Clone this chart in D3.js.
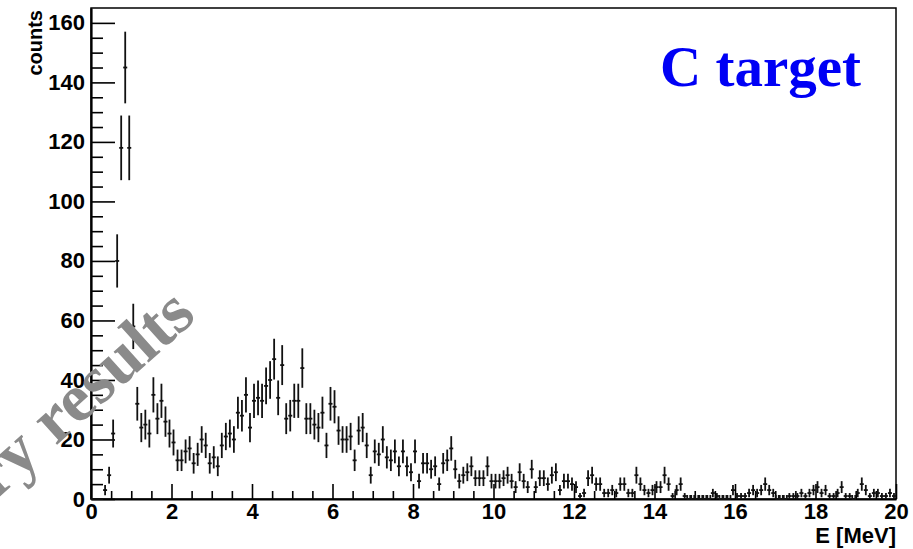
<!DOCTYPE html>
<html>
<head>
<meta charset="utf-8">
<script src="https://cdn.jsdelivr.net/npm/d3@7"></script>
<style>
  body { margin: 0; background: #fff; }
  svg { display: block; }
  .tick text { font-family: "Liberation Sans", Arial, sans-serif; font-weight: bold; font-size: 22px; fill: #000; }
</style>
</head>
<body>
<svg id="chart" width="913" height="549"></svg>
<script>
// histogram: 200 bins of 0.1 MeV, counts
const BIN_WIDTH = 0.1
const counts = [
  0, 0, 0, 3, 8, 22, 80, 118, 145, 118,
  58, 32, 24, 25, 22, 35, 27, 33, 26, 22,
  19, 13, 13, 16, 17, 12, 15, 20, 18, 12,
  14, 11, 18, 21, 22, 20, 29, 28, 35, 24,
  33, 34, 33, 38, 40, 47, 34, 45, 27, 28,
  33, 33, 44, 27, 27, 25, 24, 29, 18, 32,
  31, 23, 20, 20, 21, 13, 23, 24, 18, 8,
  16, 15, 20, 14, 13, 16, 11, 16, 11, 9,
  16, 6, 12, 12, 10, 11, 5, 12, 13, 17,
  10, 6, 8, 9, 11, 7, 7, 7, 11, 6,
  6, 6, 7, 8, 6, 4, 9, 6, 4, 10,
  4, 7, 7, 5, 8, 9, 3, 6, 6, 5,
  4, 1, 2, 7, 8, 5, 5, 2, 2, 3,
  2, 5, 5, 2, 2, 8, 5, 3, 2, 3,
  4, 4, 8, 5, 1, 3, 5, 1, 0, 0,
  0, 0, 0, 0, 2, 1, 0, 0, 0, 3,
  1, 1, 1, 2, 3, 2, 3, 5, 3, 2,
  0, 0, 0, 1, 1, 1, 2, 1, 2, 3,
  4, 2, 3, 1, 1, 2, 4, 1, 1, 0,
  2, 5, 3, 1, 2, 2, 1, 1, 2, 1
]

const xMajorTicks = [0, 2, 4, 6, 8, 10, 12, 14, 16, 18, 20]
const xMinorTicks = d3.range(0, 20.001, 0.5).filter((v) => v % 2 !== 0)
const yMajorTicks = [0, 20, 40, 60, 80, 100, 120, 140, 160]
const yMinorTicks = d3.range(0, 165, 5).filter((v) => v % 20 !== 0)

const xLabel = 'E [MeV]'
const yLabel = 'counts'
const title = 'C target'
const watermark = 'Preliminary results'

const WIDTH = 913
const HEIGHT = 549
const MARGIN = { top: 8, right: 17, bottom: 50, left: 91 }
const FONT = '"Liberation Sans", Arial, sans-serif'

const svg = d3.select('#chart')

const x = d3.scaleLinear().domain([0, 20]).range([MARGIN.left, WIDTH - MARGIN.right])
const y = d3.scaleLinear().domain([0, 165]).range([HEIGHT - MARGIN.bottom, MARGIN.top])

const bins = counts.map((c, i) => ({
  lo: i * BIN_WIDTH,
  hi: (i + 1) * BIN_WIDTH,
  mid: (i + 0.5) * BIN_WIDTH,
  c,
  err: Math.sqrt(c),
}))

// frame
svg
  .append('rect')
  .attr('x', x(0))
  .attr('y', y(165))
  .attr('width', x(20) - x(0))
  .attr('height', y(0) - y(165))
  .attr('fill', 'none')
  .attr('stroke', '#000')
  .attr('stroke-width', 1.5)

// x axis, ticks point inwards like ROOT
const xAxisG = svg.append('g').attr('transform', `translate(0,${y(0)})`)
xAxisG
  .append('g')
  .call(d3.axisBottom(x).tickValues(xMinorTicks).tickSize(-8).tickSizeOuter(0).tickFormat(''))
  .call((g) => g.select('.domain').remove())
xAxisG
  .append('g')
  .call(d3.axisBottom(x).tickValues(xMajorTicks).tickSize(-15).tickSizeOuter(0).tickPadding(4).tickFormat(d3.format('d')))

const yAxisG = svg.append('g').attr('transform', `translate(${x(0)},0)`)
yAxisG
  .append('g')
  .call(d3.axisLeft(y).tickValues(yMinorTicks).tickSize(-12).tickSizeOuter(0).tickFormat(''))
  .call((g) => g.select('.domain').remove())
yAxisG
  .append('g')
  .call(d3.axisLeft(y).tickValues(yMajorTicks).tickSize(-24).tickSizeOuter(0).tickPadding(6).tickFormat(d3.format('d')))

svg.selectAll('.domain').attr('stroke-width', 2.2)
svg.selectAll('.tick line').attr('stroke-width', 1.6)

// axis titles
svg
  .append('text')
  .attr('x', x(20))
  .attr('y', 543)
  .attr('text-anchor', 'end')
  .attr('font-family', FONT)
  .attr('font-weight', 'bold')
  .attr('font-size', 22)
  .text(xLabel)

svg
  .append('text')
  .attr('transform', `translate(42,${y(165) + 2}) rotate(-90)`)
  .attr('text-anchor', 'end')
  .attr('font-family', FONT)
  .attr('font-weight', 'bold')
  .attr('font-size', 20)
  .text(yLabel)

// error-bar markers
const marks = svg.append('g').attr('stroke', '#111').attr('stroke-width', 1.8).attr('fill', 'none')

const binG = marks.selectAll('g').data(bins).enter().append('g')

binG
  .append('line')
  .attr('x1', (d) => x(d.lo))
  .attr('x2', (d) => x(d.hi))
  .attr('y1', (d) => y(d.c))
  .attr('y2', (d) => y(d.c))

binG
  .filter((d) => d.c > 0)
  .append('line')
  .attr('x1', (d) => x(d.mid))
  .attr('x2', (d) => x(d.mid))
  .attr('y1', (d) => y(d.c - d.err))
  .attr('y2', (d) => y(d.c + d.err))

// empty bins: little end caps on the bar edges
const empty = binG.filter((d) => d.c === 0 && d.lo > 1)
empty
  .append('line')
  .attr('x1', (d) => x(d.lo) + 0.5)
  .attr('x2', (d) => x(d.lo) + 0.5)
  .attr('y1', (d) => y(d.c) - 4)
  .attr('y2', (d) => y(d.c))
empty
  .append('line')
  .attr('x1', (d) => x(d.hi) - 0.5)
  .attr('x2', (d) => x(d.hi) - 0.5)
  .attr('y1', (d) => y(d.c) - 4)
  .attr('y2', (d) => y(d.c))

// title
svg
  .append('text')
  .attr('x', 660)
  .attr('y', 86)
  .attr('font-family', '"Liberation Serif", "Times New Roman", serif')
  .attr('font-weight', 'bold')
  .attr('font-size', 57)
  .attr('fill', '#0000f5')
  .text(title)

// watermark sits on top of everything
svg
  .append('text')
  .attr('transform', 'translate(198,318) rotate(-42)')
  .attr('text-anchor', 'end')
  .attr('font-family', '"Liberation Serif", "Times New Roman", serif')
  .attr('font-weight', 'bold')
  .attr('font-size', 68)
  .attr('fill', '#8a8a8a')
  .text(watermark)
</script>
</body>
</html>
